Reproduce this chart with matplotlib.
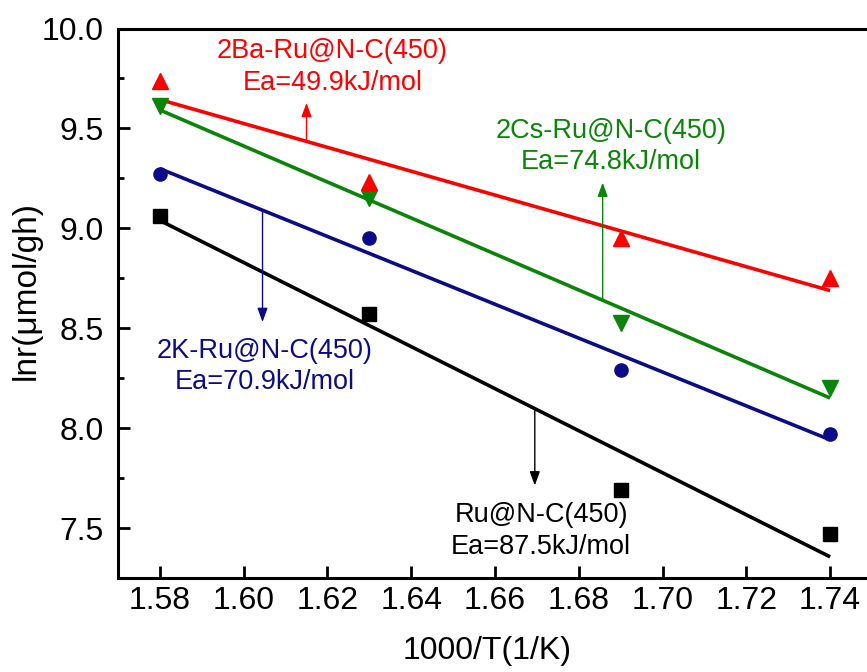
import numpy as np
import matplotlib
matplotlib.use("Agg")
import matplotlib.pyplot as plt
from matplotlib.ticker import MultipleLocator

plt.rcParams['font.family'] = ['Liberation Sans', 'DejaVu Sans']

x = [1.58, 1.63, 1.69, 1.74]
ru = [9.06, 8.57, 7.69, 7.47]
k2 = [9.27, 8.95, 8.29, 7.97]
cs2 = [9.61, 9.15, 8.526, 8.20]
ba2 = [9.735, 9.23, 8.95, 8.75]

labels = ["Ru@N-C(450)\nEa=87.5kJ/mol", "2K-Ru@N-C(450)\nEa=70.9kJ/mol",
          "2Cs-Ru@N-C(450)\nEa=74.8kJ/mol", "2Ba-Ru@N-C(450)\nEa=49.9kJ/mol"]

W, H = 867, 672
fig = plt.figure(figsize=(W/100, H/100), dpi=100)
L, R, T, B = 118, 872, 28.5, 578
ax = fig.add_axes([L/W, 1-B/H, (R-L)/W, (B-T)/H])

series = [
    (ru, 'black', 's', 10.5),
    (k2, '#0c0c8a', 'o', 9.5),
    (cs2, '#0a850a', 'v', 11.5),
    (ba2, '#ff0000', '^', 11.5),
]
xa = np.array(x)
fits = []
for ys, c, m, ms in series:
    p = np.polyfit(xa, np.array(ys), 1)
    fits.append(p)
    ax.plot(xa, np.polyval(p, xa), color=c, lw=2.6, solid_capstyle='butt', zorder=2)
    ax.plot(xa, ys, linestyle='none', marker=m, color=c, ms=ms, zorder=3)

# annotations: (text, text xy, arrow x, arrow tip y)
ann = [
    (labels[0], (1.6710, 7.486), 1.6695, 7.713),
    (labels[1], (1.6050, 8.309), 1.6045, 8.531),
    (labels[2], (1.6876, 9.409), 1.6857, 9.229),
    (labels[3], (1.6212, 9.808), 1.6150, 9.628),
]
for (txt, xy, axx, tipy), (ys, c, m, ms), p in zip(ann, series, fits):
    ax.text(xy[0], xy[1], txt, color=c, fontsize=19.5, ha='center', va='center',
            linespacing=1.28)
    ax.annotate('', xy=(axx, tipy), xytext=(axx, np.polyval(p, axx)),
                arrowprops=dict(arrowstyle='-|>,head_length=0.6,head_width=0.22',
                                color=c, lw=1.0, shrinkA=0, shrinkB=0,
                                mutation_scale=14))

ax.set_xlim(1.57, 1.75)
ax.set_ylim(7.25, 10.0)
ax.xaxis.set_major_locator(MultipleLocator(0.02))
ax.yaxis.set_major_locator(MultipleLocator(0.5))
ax.yaxis.set_minor_locator(MultipleLocator(0.25))
ax.xaxis.set_major_formatter(matplotlib.ticker.FormatStrFormatter('%.2f'))
ax.yaxis.set_major_formatter(matplotlib.ticker.FormatStrFormatter('%.1f'))
ax.tick_params(axis='both', which='both', direction='in', width=2.0,
               top=False, right=False)
ax.tick_params(axis='both', which='major', length=8.5, labelsize=23)
ax.tick_params(axis='y', which='minor', length=4.5)
ax.tick_params(axis='y', which='major', pad=10)
ax.tick_params(axis='x', which='major', pad=6)
for s in ax.spines.values():
    s.set_linewidth(2.2)

fig.text(26/W, 1-291/H, 'lnr(\u03bcmol/gh)', rotation=90, ha='center', va='center', fontsize=24)
fig.text(487/W, 1-651/H, '1000/T(1/K)', ha='center', va='center', fontsize=23)

fig.savefig('out.png', dpi=100)
